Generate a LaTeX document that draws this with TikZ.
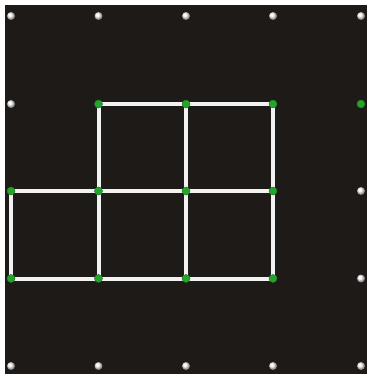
\documentclass[tikz,border=0pt]{standalone}
\usetikzlibrary{backgrounds}
\pgfdeclarelayer{board}
\pgfsetlayers{board,background,main}
\definecolor{boardc}{HTML}{1E1A18}
\definecolor{pegg}{HTML}{22A52A}
\definecolor{stickc}{HTML}{F2F2F2}
\begin{document}
\begin{tikzpicture}[x=1pt,y=-1pt,
  whitepeg/.style={circle,inner sep=0pt,minimum size=8pt,ball color=white,draw=none},
  greenpeg/.style={circle,inner sep=0pt,minimum size=8pt,fill=pegg,draw=pegg!70!black,line width=0.4pt},
  stick/.style={draw=stickc,line width=4pt,line cap=butt}]
\useasboundingbox (0,0) rectangle (367,374);
\begin{pgfonlayer}{board}
\fill[white] (0,0) rectangle (367,374);
\fill[boardc] (5,5) rectangle (367,374);
\end{pgfonlayer}
\def\xs{{11,98.5,186,273,361}}
\def\ys{{16,104,191,278.5,366}}
\foreach \i in {0,...,4}{
  \foreach \j in {0,...,4}{
    \pgfmathsetmacro{\xx}{\xs[\i]}
    \pgfmathsetmacro{\yy}{\ys[\j]}
    \node[whitepeg] (p-\i-\j) at (\xx,\yy) {};
  }
}
% green pegs overlay
\foreach \i/\j in {1/1,2/1,3/1,4/1,0/2,1/2,2/2,3/2,0/3,1/3,2/3,3/3}{
  \pgfmathsetmacro{\xx}{\xs[\i]}
  \pgfmathsetmacro{\yy}{\ys[\j]}
  \node[greenpeg] (g-\i-\j) at (\xx,\yy) {};
}
\begin{pgfonlayer}{background}
\draw[stick] (g-1-1.center) -- (g-3-1.center);
\draw[stick] (g-0-2.center) -- (g-3-2.center);
\draw[stick] (g-0-3.center) -- (g-3-3.center);
\draw[stick] (g-0-2.center) -- (g-0-3.center);
\draw[stick] (g-1-1.center) -- (g-1-3.center);
\draw[stick] (g-2-1.center) -- (g-2-3.center);
\draw[stick] (g-3-1.center) -- (g-3-3.center);
\end{pgfonlayer}
\end{tikzpicture}
\end{document}
